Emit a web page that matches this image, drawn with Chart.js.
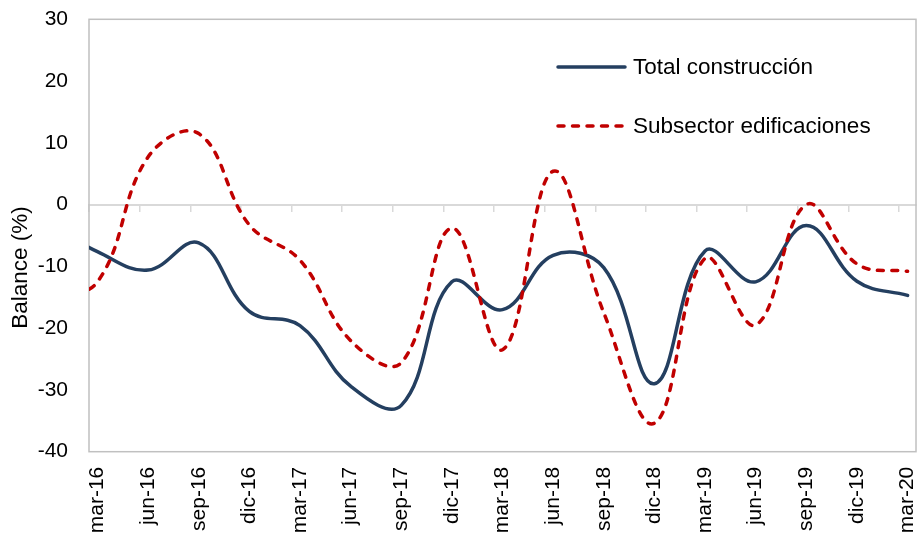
<!DOCTYPE html>
<html>
<head>
<meta charset="utf-8">
<title>Balance construcción</title>
<script src="https://cdn.jsdelivr.net/npm/chart.js@4.4.1/dist/chart.umd.min.js"></script>
<style>
  html, body { margin: 0; padding: 0; background: #fff; }
  canvas { display: block; }
</style>
</head>
<body>
<canvas id="balance-chart" width="917" height="535"></canvas>
<script>
// Quarterly periods; dic-15 lies just left of the axis and only shapes the first segment
const periods = ['dic-15', 'mar-16', 'jun-16', 'sep-16', 'dic-16', 'mar-17', 'jun-17', 'sep-17', 'dic-17',
  'mar-18', 'jun-18', 'sep-18', 'dic-18', 'mar-19', 'jun-19', 'sep-19', 'dic-19', 'mar-20'];
const tickLabels = periods.slice(1);
const totalConstruccion = [-3, -7.6, -10.6, -6.2, -17.3, -19.6, -29.4, -32.5, -12.5,
  -17.0, -8.2, -10.2, -29.0, -7.5, -12.5, -3.4, -12.4, -14.7];
const subsectorEdificaciones = [-15, -12.5, 7.7, 11.5, -3.3, -9.0, -22.0, -25.6, -3.8,
  -23.5, 5.4, -17.5, -35.4, -8.7, -19.5, 0.0, -9.6, -10.8];
const yTicks = [-40, -30, -20, -10, 0, 10, 20, 30];

// x is counted in months from mar-16
const toPoints = values => values.map((v, i) => ({ x: (i - 1) * 3, y: v }));

Chart.defaults.font.family = '"Liberation Sans", Arial, sans-serif';
Chart.defaults.color = '#000';

// grey frame round the plot area
const plotFrame = {
  id: 'plotFrame',
  beforeDatasetsDraw(chart, args, opts) {
    const { ctx, chartArea: a } = chart;
    ctx.save();
    ctx.strokeStyle = opts.color;
    ctx.lineWidth = opts.width;
    ctx.strokeRect(a.left, a.top, a.width, a.height);
    ctx.restore();
  }
};

// legend drawn inside the plot, upper right
const insideLegend = {
  id: 'insideLegend',
  afterDatasetsDraw(chart, args, opts) {
    const ctx = chart.ctx;
    ctx.save();
    ctx.font = opts.fontSize + 'px ' + Chart.defaults.font.family;
    ctx.textBaseline = 'middle';
    chart.data.datasets.forEach((ds, i) => {
      const y = opts.y + i * opts.rowGap;
      ctx.beginPath();
      ctx.strokeStyle = ds.borderColor;
      ctx.lineWidth = ds.borderWidth;
      ctx.lineCap = ds.borderCapStyle || 'butt';
      ctx.setLineDash(ds.borderDash || []);
      ctx.moveTo(opts.x, y);
      ctx.lineTo(opts.x + opts.sampleWidth, y);
      ctx.stroke();
      ctx.setLineDash([]);
      ctx.fillStyle = '#000';
      ctx.fillText(ds.label, opts.x + opts.sampleWidth + opts.textGap, y + 1);
    });
    ctx.restore();
  }
};

const ctx = document.getElementById('balance-chart').getContext('2d');
const chart = new Chart(ctx, {
  type: 'line',
  data: {
    datasets: [{
      label: 'Total construcción',
      data: toPoints(totalConstruccion),
      xAxisID: 'x',
      yAxisID: 'y',
      borderColor: '#243f60',
      borderWidth: 3.5,
      borderCapStyle: 'round',
      tension: 0.4,
      pointRadius: 0,
      pointHoverRadius: 0,
      fill: false,
      order: 1
    }, {
      label: 'Subsector edificaciones',
      data: toPoints(subsectorEdificaciones),
      xAxisID: 'x',
      yAxisID: 'y',
      borderColor: '#c00000',
      borderWidth: 3.5,
      borderDash: [6, 8.5],
      borderCapStyle: 'round',
      tension: 0.4,
      pointRadius: 0,
      pointHoverRadius: 0,
      fill: false,
      order: 0
    }]
  },
  plugins: [plotFrame, insideLegend],
  options: {
    responsive: false,
    animation: false,
    events: [],
    layout: { padding: { top: 0, right: 1, bottom: 0, left: 0 } },
    scales: {
      x: {
        type: 'linear',
        position: 'bottom',
        min: -0.5,
        max: 48.5,
        afterBuildTicks: s => { s.ticks = tickLabels.map((_, k) => ({ value: k * 3 })); },
        afterFit: s => { s.height = 83.3; s.paddingLeft = 0; s.paddingRight = 0; },
        grid: { display: false, drawTicks: false },
        border: { display: false },
        ticks: {
          autoSkip: false,
          minRotation: 90,
          maxRotation: 90,
          padding: 15,
          font: { size: 21 },
          callback: (v, i) => tickLabels[i]
        }
      },
      xZero: {
        type: 'linear',
        axis: 'x',
        position: { y: 0 },
        min: -0.5,
        max: 48.5,
        afterBuildTicks: s => { s.ticks = tickLabels.map((_, k) => ({ value: k * 3 - 0.5 })); },
        grid: { drawOnChartArea: false, drawTicks: true, tickLength: 6, color: '#d9d9d9', lineWidth: 1.5 },
        border: { color: '#d9d9d9', width: 2 },
        ticks: { display: false }
      },
      y: {
        min: -40,
        max: 30,
        afterBuildTicks: s => { s.ticks = yTicks.map(v => ({ value: v })); },
        afterFit: s => { s.width = 55; s.paddingTop = 19.3; s.paddingBottom = 0; },
        grid: { display: false, drawTicks: false },
        border: { display: false },
        ticks: { padding: 21, font: { size: 21 } }
      }
    },
    plugins: {
      legend: { display: false },
      tooltip: { enabled: false },
      title: {
        display: true,
        text: 'Balance (%)',
        position: 'left',
        color: '#000',
        font: { size: 22.5, weight: 'normal' },
        padding: { top: 7, bottom: 0 }
      },
      plotFrame: { color: '#c0c0c0', width: 1.5 },
      insideLegend: { x: 558, y: 67, rowGap: 59, sampleWidth: 67, textGap: 8, fontSize: 22.5 }
    }
  }
});
</script>
</body>
</html>
